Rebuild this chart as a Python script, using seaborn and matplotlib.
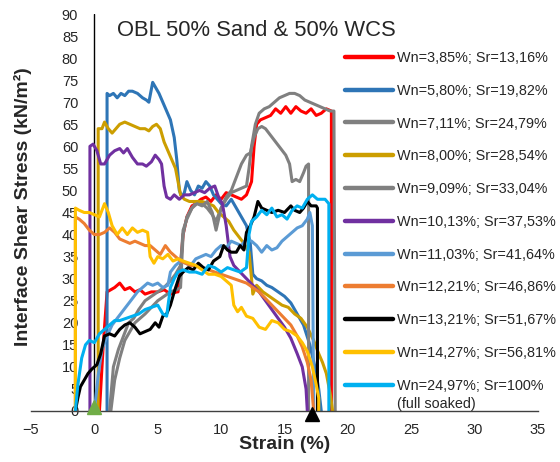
import numpy as np
import pandas as pd
import matplotlib
matplotlib.use("Agg")
import matplotlib.pyplot as plt
from matplotlib.lines import Line2D
import seaborn as sns

# ── Series data (strain %, shear stress kN/m2) ───────────────────────────────
red_x = [0.4, 0.7, 1.0, 1.3, 1.6, 2.0, 2.4, 2.8, 3.2, 3.6, 4.0, 4.5, 5.0, 5.5, 6.0, 6.5, 6.6, 6.8, 7.0,
         7.3, 7.7, 8.0, 8.4, 8.8, 9.2, 9.6, 10.0, 10.4, 10.8, 11.2, 11.6, 12.0, 12.4, 12.6, 12.8, 13.1,
         13.5, 13.9, 14.3, 14.7, 15.1, 15.5, 15.9, 16.3, 16.7, 17.1, 17.5, 17.9, 18.3, 18.7, 18.7]
red_y = [0, 15, 27, 27.5, 28, 29, 27.5, 28, 27, 27.5, 26.5, 27, 27, 27.5, 26.5, 27, 27, 33, 40,
         44, 46.5, 47, 48, 48.5, 47.5, 49, 48, 49.5, 49, 48.5, 48, 49, 52, 60, 65, 66,
         66.5, 67, 68.5, 67.5, 69, 67.5, 69, 68, 67.5, 68.5, 67, 67.5, 68.5, 68, 0]

blue_x = [1.0, 1.0, 1.2, 1.5, 1.8, 2.1, 2.4, 2.7, 3.0, 3.4, 3.8, 4.1, 4.3, 4.6, 4.8, 5.1, 5.4, 5.7, 6.0,
          6.3, 6.5, 6.7, 6.9, 7.1, 7.3, 7.6, 7.9, 8.2, 8.5, 8.8, 9.1, 9.4, 9.7, 10.0, 10.4, 10.8, 11.2,
          11.6, 12.0, 12.3, 12.5, 12.8, 13.2, 13.6, 14.0, 14.5, 15.0, 15.5, 16.0, 16.5, 17.0, 17.4,
          17.7, 17.9]
blue_y = [0, 72, 71.5, 72, 71, 72, 71.5, 72.5, 72.5, 72, 71, 70.5, 70, 74.5, 73.5, 72, 70, 68, 66,
          62, 57, 50, 48.5, 49.5, 52, 50, 49, 51, 50.5, 52, 51, 49, 48, 47, 46.5, 48, 46,
          44, 42, 38, 31, 30, 29.5, 28.5, 28, 27, 26, 24.5, 22, 19.5, 15, 10,
          5, 0]

gray1_x = [1.3, 1.6, 2.0, 2.4, 2.8, 3.2, 3.6, 4.0, 4.5, 5.0, 5.5, 6.0, 6.5, 6.8, 7.0, 7.3, 7.7, 8.1,
           8.5, 8.9, 9.3, 9.6, 10.0, 10.4, 10.8, 11.2, 11.6, 12.0, 12.2, 12.4, 12.7, 13.0, 13.4, 13.8,
           14.2, 14.6, 15.0, 15.4, 15.8, 16.2, 16.6, 17.0, 17.4, 17.8, 18.2, 18.6, 18.9, 19.0]
gray1_y = [0, 7, 12, 16, 18, 20, 21, 22, 23.5, 25, 26, 27, 27.5, 28, 40, 44, 46, 47.5,
           47, 46, 44.5, 43, 46, 48, 49.5, 50, 50.5, 51, 55, 60, 65, 67.5, 68.5, 69,
           70, 71, 71.5, 72, 72, 71.5, 70.5, 70, 69.5, 69, 68.5, 68, 68, 0]

gold_x = [0.3, 0.3, 0.6, 0.8, 1.1, 1.4, 1.7, 2.0, 2.4, 2.8, 3.2, 3.6, 4.0, 4.3, 4.6, 4.9, 5.2, 5.5,
          5.8, 6.1, 6.4, 6.6, 6.8, 7.1, 7.5, 8.0, 8.5, 9.0, 9.4, 9.8, 10.2, 10.6, 11.0, 11.4, 11.8,
          12.2, 12.4, 12.5, 12.8, 13.3, 13.8, 14.3, 14.8, 15.3, 15.8, 16.3, 16.8, 17.3, 17.7, 18.0,
          18.3, 18.6, 18.8]
gold_y = [0, 64, 64, 65.5, 64, 63, 64, 65, 65.5, 65, 64.5, 64, 64, 63.5, 64.5, 65, 64, 61,
          59, 57, 55, 52, 49, 48, 47.5, 47.5, 47.5, 47, 46.5, 45, 44, 43, 41, 39.5, 38,
          36, 30, 26.5, 28.5, 27, 26, 25, 24, 23.5, 22, 21, 19, 16, 13, 11,
          8.5, 4, 0]

gray2_x = [1.2, 1.5, 1.9, 2.3, 2.7, 3.1, 3.5, 4.0, 4.5, 5.0, 5.5, 6.0, 6.4, 6.8, 7.0, 7.3, 7.7, 8.1,
           8.5, 8.9, 9.3, 9.6, 10.0, 10.4, 10.8, 11.2, 11.6, 12.0, 12.3, 12.6, 12.9, 13.2, 13.5, 13.9,
           14.3, 14.7, 15.1, 15.4, 15.6, 15.9, 16.2, 16.5, 16.7, 16.9, 16.9]
gray2_y = [0, 10, 14, 17, 20, 21, 23, 25, 26, 27, 28, 29.5, 31, 33, 41, 43.5, 46, 47,
           46.5, 47.5, 45, 41, 46, 48.5, 50, 53, 56, 58, 58.5, 62, 64, 64.5, 64, 62.5,
           61, 59.5, 58, 56, 52, 52.5, 52, 54, 55.5, 56, 0]

purple_x = [-0.35, -0.35, -0.1, 0.2, 0.5, 0.8, 1.2, 1.6, 2.0, 2.3, 2.6, 3.0, 3.4, 3.8, 4.1, 4.5, 4.8,
            5.1, 5.3, 5.5, 5.7, 6.0, 6.3, 6.7, 7.1, 7.5, 7.9, 8.3, 8.7, 9.1, 9.5, 9.8, 10.1, 10.4,
            10.7, 11.0, 11.5, 12.0, 12.5, 13.0, 13.5, 14.0, 14.5, 15.0, 15.5, 16.0, 16.4, 16.7, 16.8]
purple_y = [0, 60, 60.5, 59, 56, 56, 58, 59, 59.5, 58.5, 59.5, 57.5, 56, 56, 55.5, 56.5, 58,
            57, 56, 51, 48.5, 48, 49, 48, 49, 49, 49.5, 50, 49.5, 50.5, 51, 48.5, 47, 42,
            35, 33, 31.5, 30, 28.5, 27, 25, 23, 21, 19, 16.5, 13, 10, 5, 0]

ltblue_x = [0.0, 0.3, 0.6, 1.0, 1.4, 1.8, 2.2, 2.6, 3.0, 3.4, 3.8, 4.2, 4.6, 5.0, 5.4, 5.8, 6.0, 6.4,
            6.8, 7.2, 7.6, 8.0, 8.4, 8.8, 9.2, 9.6, 10.0, 10.4, 10.8, 11.2, 11.6, 12.0, 12.4, 12.8,
            13.2, 13.6, 14.0, 14.4, 14.8, 15.2, 15.6, 16.0, 16.4, 16.8, 17.0, 17.2, 17.3]
ltblue_y = [0, 8, 14, 17, 19.5, 21, 22.5, 24, 25.5, 27, 28, 29, 28.5, 29, 28, 28.5, 31.5, 33,
            34, 33.5, 33, 34.5, 35, 35.5, 35, 36.5, 37.5, 37, 38.5, 38, 37.5, 39, 38.5, 37.5,
            36, 37.5, 36.5, 37, 38.5, 39.5, 40.5, 41.5, 42, 43.5, 45, 42, 0]

orange_x = [-1.5, -1.5, -1.2, -0.8, -0.4, 0.0, 0.4, 0.8, 1.2, 1.6, 2.0, 2.4, 2.8, 3.2, 3.6, 4.0, 4.4,
            4.8, 5.2, 5.6, 6.0, 6.4, 6.8, 7.2, 7.6, 8.0, 8.5, 9.0, 9.5, 10.0, 10.5, 11.0, 11.5, 12.0,
            12.5, 13.0, 13.5, 14.0, 14.5, 15.0, 15.5, 16.0, 16.4, 16.8, 17.1, 17.3]
orange_y = [0, 44, 43.5, 42.5, 41, 40, 40, 40.5, 41.5, 40.5, 39, 38.5, 38, 38.5, 38, 37.5, 37.5,
            36.5, 35.5, 37.5, 36, 35, 34, 33.5, 33, 33, 32.5, 32, 31.5, 31, 30.5, 30, 29.5, 29,
            28, 27, 25.5, 24, 22.5, 21, 19.5, 17, 14.5, 11, 7, 0]

black_x = [-1.5, -1.3, -1.1, -0.8, -0.5, -0.2, 0.2, 0.5, 0.8, 1.2, 1.6, 2.0, 2.4, 2.8, 3.2, 3.6, 4.0,
           4.4, 4.8, 5.1, 5.4, 5.7, 6.0, 6.3, 6.7, 7.0, 7.4, 7.8, 8.2, 8.6, 9.0, 9.4, 9.9, 10.2,
           10.5, 10.8, 11.2, 11.5, 11.8, 12.0, 12.3, 12.6, 12.9, 13.2, 13.6, 14.0, 14.5, 15.0, 15.5,
           15.8, 16.2, 16.5, 16.8, 17.1, 17.5, 17.6, 17.6]
black_y = [0, 3, 5.5, 7, 8.5, 9.5, 10.5, 13, 17, 17.5, 17, 18.5, 19.5, 20, 19, 17.5, 18,
           18.5, 20, 19, 21.5, 22, 24, 27, 30.5, 31.5, 32.5, 32, 33.5, 32.5, 32, 34, 35, 37.5,
           36.5, 36, 36, 37.5, 36.5, 40.5, 42, 44, 47.5, 46, 45.5, 45, 45.5, 45, 46.5,
           45.5, 45, 46, 47.5, 46.5, 46.5, 46, 0]

yellow_x = [-1.5, -1.5, -1.2, -0.8, -0.4, 0.0, 0.4, 0.8, 1.1, 1.4, 1.8, 2.2, 2.6, 3.0, 3.4, 3.8, 4.2,
            4.4, 4.7, 5.0, 5.4, 5.8, 6.2, 6.6, 7.0, 7.5, 8.0, 8.5, 9.0, 9.5, 10.0, 10.4, 10.8, 11.0,
            11.3, 11.6, 12.0, 12.5, 13.0, 13.5, 14.0, 14.5, 15.0, 15.5, 16.0, 16.4, 16.8, 17.2, 17.5,
            17.7, 17.7]
yellow_y = [0, 46, 45.5, 45, 45, 44.5, 44, 47, 45, 42, 40, 41.5, 40, 41.5, 40.5, 41, 40.5,
            35, 33.5, 35, 34.5, 35.5, 34, 34.5, 34, 33.5, 33, 32, 31, 31, 30.5, 29.5, 28.5, 24,
            22.5, 23.5, 21.5, 21, 19, 18.5, 20.5, 20, 18.5, 18, 17, 15.5, 13.5, 10, 6,
            3, 0]

cyan_x = [-1.5, -1.3, -1.0, -0.7, -0.4, 0.0, 0.4, 0.8, 1.2, 1.6, 2.0, 2.5, 3.0, 3.5, 4.0, 4.5, 5.0,
          5.4, 5.7, 6.0, 6.3, 6.6, 7.0, 7.5, 8.0, 8.5, 9.0, 9.5, 10.0, 10.5, 11.0, 11.5, 12.0, 12.2,
          12.4, 12.8, 13.2, 13.6, 14.0, 14.4, 14.8, 15.2, 15.6, 16.0, 16.4, 16.8, 17.2, 17.6, 17.9,
          18.2, 18.5, 18.5]
cyan_y = [0, 6, 12, 15, 16, 15.5, 17.5, 18.5, 19.5, 20.5, 20.5, 21, 21.5, 22, 23, 23.5, 24,
          22, 21.5, 28, 30, 31.5, 32, 31.5, 31.5, 31, 33, 32.5, 31.5, 32.5, 32, 31.5, 32.5, 40,
          43, 44, 45.5, 44.5, 46, 44, 44.5, 43.5, 45.5, 46.5, 46, 48, 49, 48, 48,
          48, 47, 0]

labels = ["Wn=3,85%; Sr=13,16%", "Wn=5,80%; Sr=19,82%", "Wn=7,11%; Sr=24,79%",
          "Wn=8,00%; Sr=28,54%", "Wn=9,09%; Sr=33,04%", "Wn=10,13%; Sr=37,53%",
          "Wn=11,03%; Sr=41,64%", "Wn=12,21%; Sr=46,86%", "Wn=13,21%; Sr=51,67%",
          "Wn=14,27%; Sr=56,81%", "Wn=24,97%; Sr=100%"]
colors = ["#FF0000", "#2E75B6", "#808080", "#CC9E00", "#808080", "#7030A0",
          "#5B9BD5", "#ED7D31", "#000000", "#FFC000", "#00B0F0"]
series_x = [red_x, blue_x, gray1_x, gold_x, gray2_x, purple_x, ltblue_x, orange_x, black_x, yellow_x, cyan_x]
series_y = [red_y, blue_y, gray1_y, gold_y, gray2_y, purple_y, ltblue_y, orange_y, black_y, yellow_y, cyan_y]

# start / end markers
mark_x = [0, 17.2]
mark_y = [0.9, -0.7]
mark_colors = ["#70AD47", "#000000"]

xticks = list(range(-5, 40, 5))
yticks = list(range(0, 95, 5))

df = pd.concat(
    [pd.DataFrame({"strain": xs, "stress": ys, "series": lab})
     for lab, xs, ys in zip(labels, series_x, series_y)],
    ignore_index=True,
)

# ── Style ────────────────────────────────────────────────────────────────────
sns.set_style("white")
plt.rcParams["font.family"] = ["Liberation Sans", "DejaVu Sans"]

fig = plt.figure(figsize=(5.6, 4.62), dpi=100)
ax = fig.add_axes([31 / 560, 1 - 411 / 462, 507 / 560, 397 / 462])

sns.lineplot(
    data=df, x="strain", y="stress", hue="series", hue_order=labels,
    palette=dict(zip(labels, colors)), estimator=None, sort=False,
    linewidth=2.2, legend=False, ax=ax,
)

for mx, my, mc in zip(mark_x, mark_y, mark_colors):
    ax.plot(mx, my, marker="^", markersize=9.5, color=mc, clip_on=False, zorder=5)

ax.axvline(0, color="black", linewidth=1.0, zorder=1)

ax.set_xlim(-5, 35)
ax.set_ylim(0, 90)
ax.set_xticks(xticks)
ax.set_yticks(yticks)
ax.tick_params(axis="x", length=0, pad=8.5, labelsize=10.5)
ax.tick_params(axis="y", length=0, pad=-34, labelsize=10.5)
for s in ["top", "right", "left"]:
    ax.spines[s].set_visible(False)
ax.spines["bottom"].set_color("#404040")
ax.spines["bottom"].set_linewidth(1.0)

ax.set_xlabel("Strain (%)", fontsize=14, fontweight="bold")
ax.xaxis.set_label_coords(0.5, -0.064)
ax.xaxis.label.set_va("top")
ax.set_ylabel("Interface Shear Stress (kN/m²)", fontsize=14, fontweight="bold")
ax.yaxis.set_label_coords(0.002, 0.516)

ax.text(86 / 507, 381 / 397, "OBL 50% Sand & 50% WCS", transform=ax.transAxes,
        fontsize=15.8, ha="left", va="center")

handles = [Line2D([], [], color=c, linewidth=3.2) for c in colors]
ax.legend(handles, labels, loc="upper left", bbox_to_anchor=(345 / 560, 1 - 51 / 462),
          bbox_transform=fig.transFigure, frameon=False, fontsize=10.4,
          handlelength=3.3, handletextpad=0.3, labelspacing=1.30,
          borderpad=0, borderaxespad=0)
fig.text(397 / 560, 1 - 404 / 462, "(full soaked)", fontsize=10.4, ha="left", va="center")

fig.savefig("out.png", dpi=100)
